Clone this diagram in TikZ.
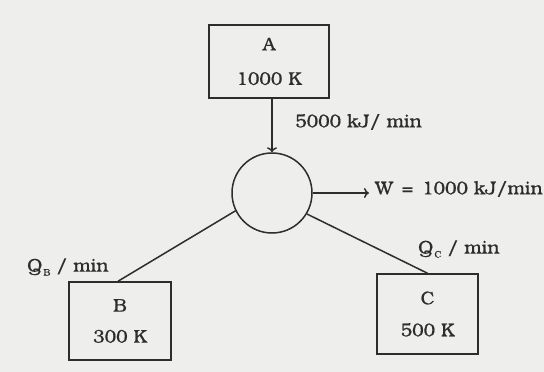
\documentclass[tikz,border=0pt]{standalone}
\usepackage{fontspec}
\setmainfont{texgyrebonum-regular.otf}[BoldFont=texgyrebonum-regular.otf, BoldFeatures={FakeBold=0.6}]
\usetikzlibrary{arrows.meta}
\definecolor{ink}{RGB}{45,45,45}
\definecolor{paper}{RGB}{238,238,236}
\newcommand{\subQ}[1]{Q\kern1pt\raisebox{-4pt}{\fontsize{9.5}{9.5}\selectfont #1}}
\begin{document}
\begin{tikzpicture}[x=1pt,y=-1pt,
  every node/.style={text=ink, font=\fontsize{18.5}{22}\selectfont\bfseries, inner sep=0pt},
  box/.style={draw=ink, line width=1.5pt, align=center},
  wire/.style={draw=ink, line width=1.5pt},
  arr/.style={wire, -{To[length=5pt,width=10pt,line width=1.5pt]}}]
\fill[paper] (0,0) rectangle (544,372);
\useasboundingbox (0,0) rectangle (544,372);
\node[box, minimum width=120pt, minimum height=73pt, font=\fontsize{18.5}{34.5}\selectfont\bfseries] (A) at (269,61.5) {A\\1000 K};
\node[draw=ink, line width=1.5pt, circle, minimum size=80pt] (O) at (272,193) {};
\node[box, minimum width=102pt, minimum height=78pt, font=\fontsize{18.5}{31}\selectfont\bfseries] (B) at (120,321) {B\\300 K};
\node[box, minimum width=101pt, minimum height=80pt, font=\fontsize{18.5}{32}\selectfont\bfseries] (C) at (427.5,314) {C\\500 K};
\node[anchor=west] (L5) at (295,122) {5000 kJ/ min};
\node[anchor=west] (W) at (375,189) {W \,=\, 1000 kJ/min};
\node[anchor=west] (QB) at (27,267) {\subQ{B} / min};
\node[anchor=west] (QC) at (418,249) {\subQ{C} / min};
\draw[arr] (A.south -| O.north) -- (O.north);
\draw[arr] (O.east) -- (369,193);
\draw[wire] (O.206) -- ([xshift=-2pt]B.north);
\draw[wire] (O.329) -- (C.north);
\end{tikzpicture}
\end{document}
